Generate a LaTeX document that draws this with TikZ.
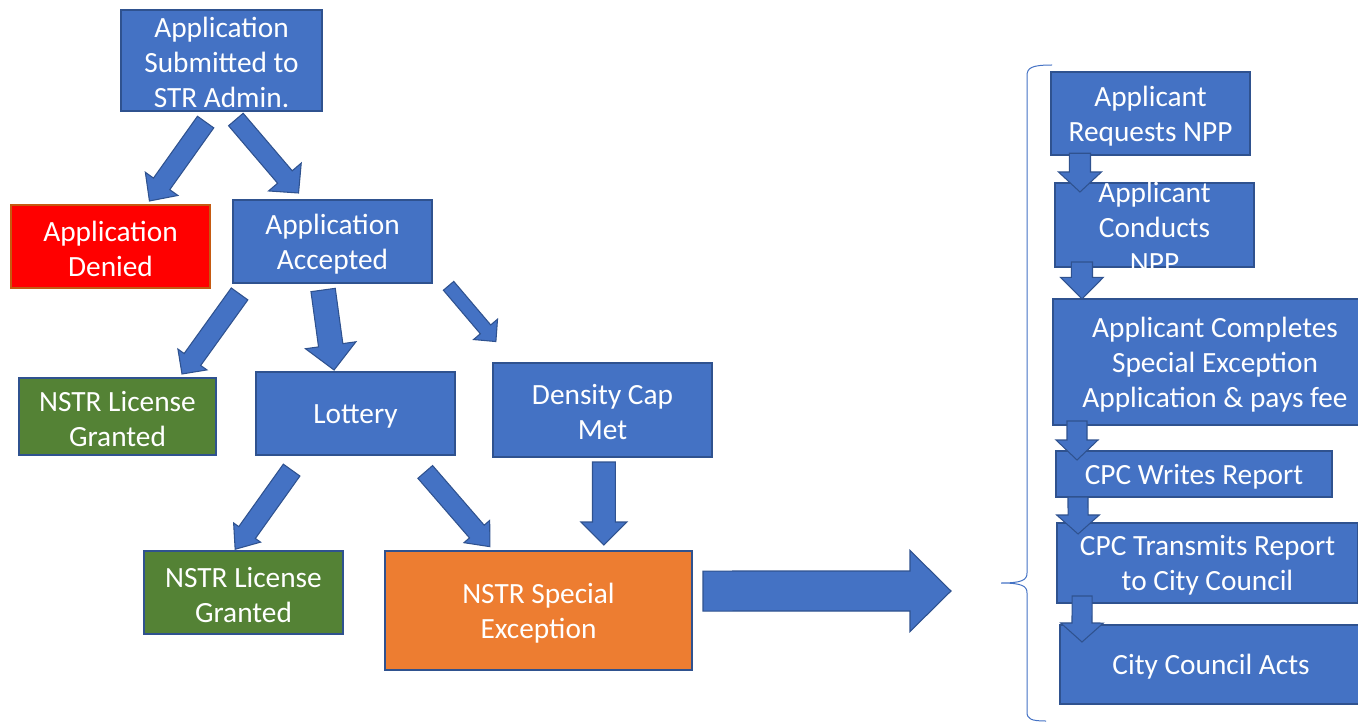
\documentclass[tikz,border=0pt]{standalone}
\usepackage{fontspec}
\setmainfont{Carlito}
\usetikzlibrary{calc}

\definecolor{boxblue}{HTML}{4472C4}
\definecolor{boxline}{HTML}{2F528F}
\definecolor{deniedred}{HTML}{FF0000}
\definecolor{deniedline}{HTML}{C55A11}
\definecolor{grantgreen}{HTML}{548235}
\definecolor{specorange}{HTML}{ED7D31}

\tikzset{
	shaft/.initial=7.5pt, head/.initial=15pt, headlen/.initial=15pt,
	gapA/.initial=0pt, gapB/.initial=0pt,
	fat/.style={draw=boxline, fill=boxblue, line width=0.8pt, to path={
		let \p1=($(\tikztostart)!\pgfkeysvalueof{/tikz/gapA}!(\tikztotarget)$),
		    \p2=($(\tikztotarget)!\pgfkeysvalueof{/tikz/gapB}!(\tikztostart)$),
		    \p3=($(\p2)!\pgfkeysvalueof{/tikz/headlen}!(\p1)$) in
		($(\p1)!\pgfkeysvalueof{/tikz/shaft}!90:(\p2)$)
		-- ($(\p3)!\pgfkeysvalueof{/tikz/shaft}!90:(\p2)$)
		-- ($(\p3)!\pgfkeysvalueof{/tikz/head}!90:(\p2)$)
		-- (\p2)
		-- ($(\p3)!\pgfkeysvalueof{/tikz/head}!-90:(\p2)$)
		-- ($(\p3)!\pgfkeysvalueof{/tikz/shaft}!-90:(\p2)$)
		-- ($(\p1)!\pgfkeysvalueof{/tikz/shaft}!-90:(\p2)$) -- cycle}}
}

\begin{document}
\begin{tikzpicture}[x=0.75pt, y=-0.75pt,
	boxtext/.style={text=white, align=flush center, inner sep=0pt, font=\fontsize{22pt}{26.3pt}\selectfont,
		text width=\pgfshapeminwidth, execute at begin node={\rule{0pt}{18.8pt}}},
	box/.style={boxtext, draw=boxline, fill=boxblue, line width=1pt, outer sep=0pt},
	denied/.style={box, fill=deniedred, draw=deniedline},
	granted/.style={box, fill=grantgreen},
	special/.style={box, fill=specorange}]
	\useasboundingbox (0,0) rectangle (1358,723);

	\node[box, minimum width=150.75pt, minimum height=75.75pt](submit) at (221.5,60.5){Application\\Submitted to\\STR Admin.};
	\node[denied, minimum width=149.25pt, minimum height=62.25pt](denied) at (110.5,246.5){Application\\Denied};
	\node[box, minimum width=149.25pt, minimum height=62.25pt](accepted) at (332.5,241.5){Application\\Accepted};
	\node[granted, minimum width=147.75pt, minimum height=57.75pt](granted_1) at (117.5,416.5){NSTR License\\Granted};
	\node[box, minimum width=149.25pt, minimum height=62.25pt](lottery) at (355.5,413.5){Lottery};
	\node[box, minimum width=164.25pt, minimum height=70.5pt](cap) at (602.5,410){Density Cap\\Met};
	\node[granted, minimum width=149.25pt, minimum height=62.25pt](granted_2) at (243.5,592.5){NSTR License\\Granted};
	\node[special, minimum width=230.25pt, minimum height=89.25pt](special) at (538.5,610.5){NSTR Special\\Exception};

	\node[box, minimum width=149.25pt, minimum height=62.25pt](req) at (1150.5,113.5){Applicant\\Requests NPP};
	\node[box, minimum width=149.25pt, minimum height=63pt,
		label={[boxtext, text width=149.25pt]center:{Applicant\\Conducts\\NPP}}](conduct) at (1154.5,225){};
	\node[box, minimum width=243pt, minimum height=94.5pt](complete) at (1215,362){Applicant Completes\\Special Exception\\Application \& pays fee};
	\node[box, minimum width=207pt, minimum height=34.5pt](writes) at (1194,474){CPC Writes Report};
	\node[box, minimum width=225.75pt, minimum height=60pt](transmit) at (1207.5,563){CPC Transmits Report\\to City Council};
	\node[box, minimum width=226.5pt, minimum height=59.25pt](council) at (1211,664.5){City Council Acts};

	\coordinate (bigend) at (951,591);

	% left-hand tree
	\path
	(submit.261) edge[fat, gapA=10.2pt, gapB=3.7pt, shaft=7.5pt, head=15pt, headlen=15.75pt] (denied.49)
	(submit.278) edge[fat, gapA=8.4pt, gapB=6.9pt, shaft=7.2pt, head=16.1pt, headlen=15.75pt] (accepted.124)
	(accepted.206) edge[fat, gapA=10.1pt, gapB=3.7pt, shaft=7.65pt, head=13.4pt, headlen=13.4pt] (granted_1.32)
	(accepted.256) edge[fat, gapA=5.3pt, gapB=1.5pt, shaft=9.2pt, head=19.1pt, headlen=18.75pt] (lottery.117)
	(accepted.346) edge[fat, gapA=19.2pt, gapB=21.1pt, shaft=5.1pt, head=11.8pt, headlen=12pt] (cap.152)
	(lottery.218) edge[fat, gapA=13.9pt, gapB=1.6pt, shaft=7.65pt, head=12.4pt, headlen=15.4pt] (granted_2.103)
	(lottery.323) edge[fat, gapA=16.8pt, gapB=4.3pt, shaft=7.3pt, head=12.75pt, headlen=15pt] (special.127)
	([xshift=1.1pt]cap.south) edge[fat, gapA=3.75pt, gapB=4.5pt, shaft=8.6pt, head=17.25pt, headlen=17.25pt] ([xshift=49.1pt]special.north)
	([yshift=14.6pt]special.east) edge[fat, gapA=8.25pt, shaft=15pt, head=30.4pt, headlen=30.75pt] (bigend);

	% special exception steps
	\path
	([xshift=-52.9pt]req.south) edge[fat, gapA=-1.3pt, gapB=-6.75pt, shaft=7.9pt, head=16.1pt] ([xshift=-55.9pt]conduct.north)
	([xshift=-54.4pt]conduct.south) edge[fat, gapA=-3.75pt, shaft=7.9pt, head=16pt, headlen=16.2pt] ([xshift=-99.75pt]complete.north)
	([xshift=-103.5pt]complete.south) edge[fat, gapA=-3pt, gapB=-6.75pt, head=15.75pt] ([xshift=-87.75pt]writes.north)
	([xshift=-87pt]writes.south) edge[fat, gapB=-8.25pt, head=16pt, headlen=14.25pt] ([xshift=-97.1pt]transmit.north)
	([xshift=-94.1pt]transmit.south) edge[fat, gapA=-5.25pt, gapB=-12.75pt, head=16pt, headlen=14.25pt] ([xshift=-96.75pt]council.north);

	\draw[boxblue, line width=0.75pt] (1052,65) .. controls (1031,65) and (1027,68) .. (1027,76) -- (1027,573)
		.. controls (1027,580) and (1022,583) .. (1001,583) .. controls (1022,583) and (1027,586) .. (1027,593)
		-- (1027,712) .. controls (1027,719) and (1031,721) .. (1046,721);
\end{tikzpicture}
\end{document}
